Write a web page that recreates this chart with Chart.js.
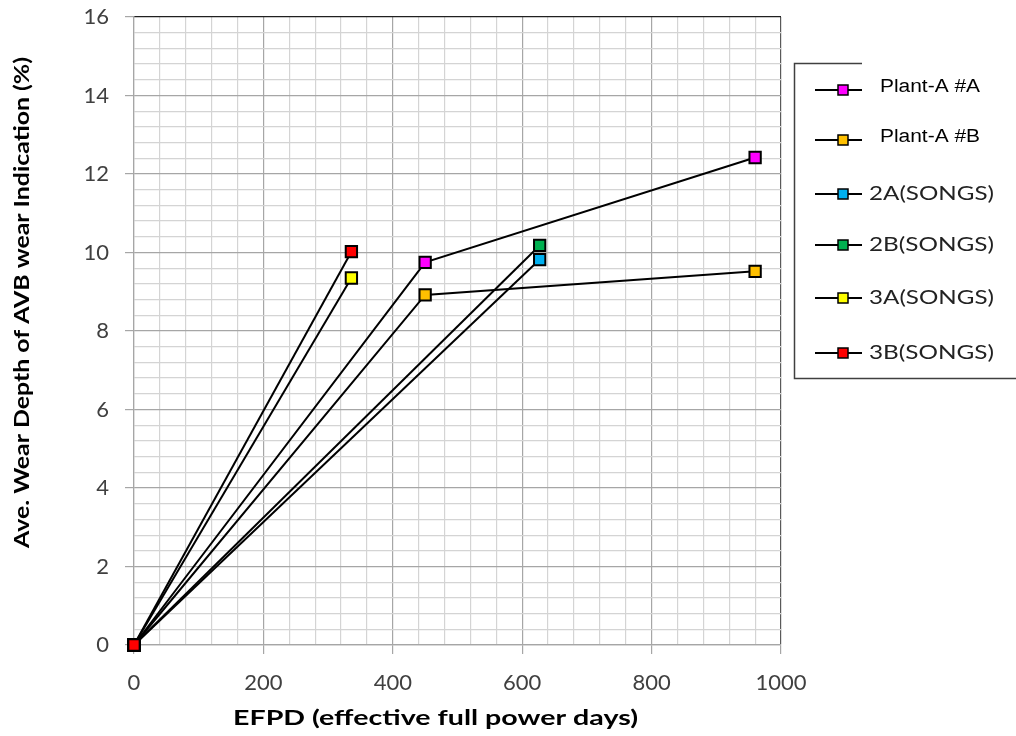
<!DOCTYPE html>
<html>
<head>
<meta charset="utf-8">
<script src="https://cdn.jsdelivr.net/npm/chart.js@4"></script>
<style>
    html, body { margin: 0; padding: 0; background: #fff; }
    #wrap { width: 1016px; height: 736px; }
</style>
</head>
<body>
<div id="wrap"><canvas id="myChart" width="1016" height="736"></canvas></div>
<script>
// series names and marker colours
var seriesNames = ["Plant-A #A", "Plant-A #B", "2A(SONGS)", "2B(SONGS)", "3A(SONGS)", "3B(SONGS)"];
var seriesColors = ["#ff00ff", "#ffc000", "#00b0f0", "#00b050", "#ffff00", "#ff0000"];

// EFPD values (x) for each series
var plantA_A_x = [0, 450, 960];
var plantA_B_x = [0, 450, 960];
var songs2A_x = [0, 627];
var songs2B_x = [0, 627];
var songs3A_x = [0, 336];
var songs3B_x = [0, 336];

// wear depth values (y, %)
var plantA_A_y = [0, 9.75, 12.42];
var plantA_B_y = [0, 8.92, 9.52];
var songs2A_y = [0, 9.82];
var songs2B_y = [0, 10.18];
var songs3A_y = [0, 9.35];
var songs3B_y = [0, 10.02];

// axis ticks
var xTickLabels = [0, 200, 400, 600, 800, 1000];
var yTickLabels = [0, 2, 4, 6, 8, 10, 12, 14, 16];

var xTitle = "EFPD (effective full power days)";
var yTitle = "Ave. Wear Depth of AVB wear Indication (%)";

var allX = [plantA_A_x, plantA_B_x, songs2A_x, songs2B_x, songs3A_x, songs3B_x];
var allY = [plantA_A_y, plantA_B_y, songs2A_y, songs2B_y, songs3A_y, songs3B_y];

const list2points = (xs, ys) => {
    var data = [];
    for (var i = 0; i < xs.length; i++) {
        data.push({ x: xs[i], y: ys[i] });
    }
    return data;
};

function isLabelX(v) {
    return xTickLabels.indexOf(Math.round(v)) >= 0 && Math.abs(v - Math.round(v)) < 1e-6;
}
function isLabelY(v) {
    for (var i = 0; i < yTickLabels.length; i++) {
        if (Math.abs(v - yTickLabels[i]) < 1e-6) return true;
    }
    return false;
}

var tickFont = { family: "Lato", size: 22 };

// text squeezed/stretched to a given width (the original font runs wide)
function stretchText(c, text, x, y, width) {
    var w = c.measureText(text).width;
    c.save();
    c.translate(x, y);
    c.scale(width / w, 1);
    c.textAlign = "left";
    c.fillText(text, 0, 0);
    c.restore();
}

// legend and axis titles drawn by hand
var sketchPlugin = {
    id: "sketch",
    afterDraw: function (chart) {
        var c = chart.ctx;
        c.save();

        // axis titles
        c.fillStyle = "#000";
        c.font = "bold 21px Lato";
        c.textBaseline = "middle";
        stretchText(c, xTitle, 233, 718, 405);
        c.save();
        c.translate(22, 548);
        c.rotate(-Math.PI / 2);
        stretchText(c, yTitle, 0, 0, 491);
        c.restore();

        // legend box
        c.strokeStyle = "#404040";
        c.lineWidth = 1.5;
        c.beginPath();
        c.moveTo(862, 63.5);
        c.lineTo(794.5, 63.5);
        c.lineTo(794.5, 378.5);
        c.lineTo(1016, 378.5);
        c.stroke();

        var rows = [90, 140, 194, 245, 298, 353];
        for (var i = 0; i < seriesNames.length; i++) {
            var y = rows[i];
            c.strokeStyle = "#000";
            c.lineWidth = 2;
            c.beginPath();
            c.moveTo(815, y);
            c.lineTo(862, y);
            c.stroke();
            c.fillStyle = seriesColors[i];
            c.fillRect(838, y - 5, 10, 10);
            c.lineWidth = 1.5;
            c.strokeRect(838, y - 5, 10, 10);
            c.fillStyle = "#000";
            if (i < 2) {
                c.font = "18px 'Liberation Sans'";
                stretchText(c, seriesNames[i], 880, y - 3, 100);
            } else {
                c.fillStyle = "#222";
                c.font = "19px Lato";
                stretchText(c, seriesNames[i], 869, y, 125);
            }
        }
        c.restore();
    }
};

function init_chart() {
    var ctx = document.getElementById("myChart").getContext("2d");
    var datasets = [];
    for (var i = 0; i < seriesNames.length; i++) {
        datasets.push({
            label: seriesNames[i],
            data: list2points(allX[i], allY[i]),
            order: seriesNames.length - i,
            clip: false,
            borderColor: "#000",
            borderWidth: 2,
            backgroundColor: seriesColors[i],
            pointStyle: "rect",
            pointRadius: 8,
            pointBorderColor: "#000",
            pointBorderWidth: 2,
            pointBackgroundColor: seriesColors[i],
            fill: false,
            tension: 0,
        });
    }
    window.myChart = new Chart(ctx, {
        type: "line",
        data: { datasets: datasets },
        plugins: [sketchPlugin],
        options: {
            responsive: false,
            animation: false,
            layout: { padding: { top: 17, right: 235, left: 0, bottom: 0 } },
            plugins: {
                legend: { display: false },
                tooltip: { enabled: false },
            },
            scales: {
                x: {
                    type: "linear",
                    min: 0,
                    max: 1000,
                    afterFit: function (scale) {
                        scale.height = 91;
                        scale.paddingLeft = 0;
                        scale.paddingRight = 0;
                    },
                    ticks: {
                        stepSize: 40,
                        autoSkip: false,
                        maxRotation: 0,
                        padding: 16,
                        color: "#404040",
                        font: tickFont,
                        callback: function (v) { return isLabelX(v) ? String(v) : ""; },
                    },
                    grid: {
                        lineWidth: 1.2,
                        tickLength: 9,
                        color: function (c) {
                            var v = c.tick ? c.tick.value : 0;
                            if (Math.abs(v - 1000) < 1e-6) return "#595959";
                            return isLabelX(v) ? "#a6a6a6" : "#d4d4d4";
                        },
                        tickColor: function (c) {
                            var v = c.tick ? c.tick.value : 0;
                            return isLabelX(v) ? "#a6a6a6" : "rgba(0,0,0,0)";
                        },
                    },
                    border: { color: "#a6a6a6", width: 1.2 },
                },
                y: {
                    type: "linear",
                    min: 0,
                    max: 16,
                    afterFit: function (scale) {
                        scale.width = 134;
                        scale.paddingTop = 0;
                        scale.paddingBottom = 0;
                    },
                    ticks: {
                        stepSize: 0.4,
                        autoSkip: false,
                        padding: 16,
                        color: "#404040",
                        font: tickFont,
                        callback: function (v) { return isLabelY(v) ? String(Math.round(v)) : ""; },
                    },
                    grid: {
                        lineWidth: 1.2,
                        tickLength: 9,
                        color: function (c) {
                            var v = c.tick ? c.tick.value : 0;
                            if (Math.abs(v - 16) < 1e-6) return "#202020";
                            return isLabelY(v) ? "#a6a6a6" : "#d4d4d4";
                        },
                        tickColor: function (c) {
                            var v = c.tick ? c.tick.value : 0;
                            return isLabelY(v) ? "#a6a6a6" : "rgba(0,0,0,0)";
                        },
                    },
                    border: { color: "#a6a6a6", width: 1.2 },
                },
            },
        },
    });
}

init_chart();
</script>
</body>
</html>
